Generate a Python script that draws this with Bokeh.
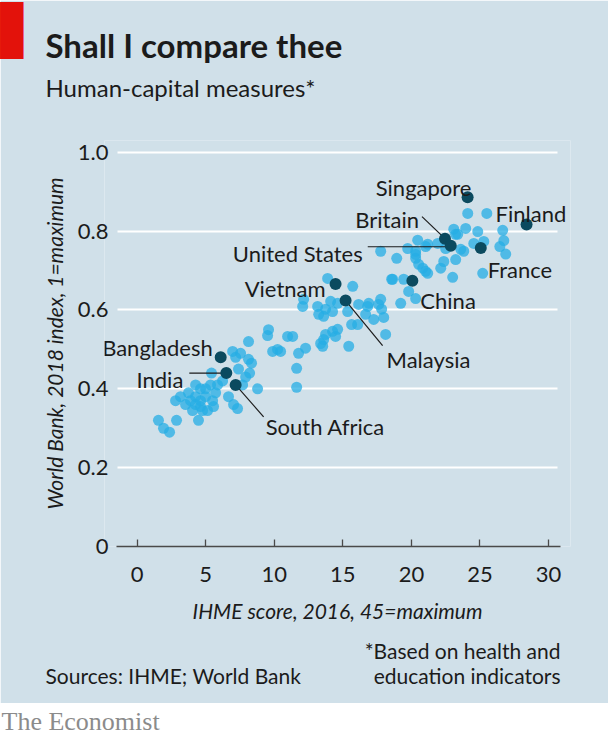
from bokeh.plotting import figure
from bokeh.models import (Range1d, Label, ColumnDataSource, FixedTicker,
                          CustomJSTickFormatter, Grid)
from bokeh.layouts import column
from bokeh.core.properties import value
from bokeh.embed import file_html
from bokeh.resources import INLINE

# ---------------- data ----------------
x_ticks = [0, 5, 10, 15, 20, 25, 30]
y_ticks = [0, 0.2, 0.4, 0.6, 0.8, 1.0]

other_ihme = [
    1.55, 1.92, 2.36, 2.87, 4.47, 2.80, 3.53, 3.74, 4.26, 4.62, 4.99, 5.35, 5.42, 5.86,
    4.26, 4.62, 4.99, 5.50, 3.89, 4.26, 4.62, 4.77, 5.13, 4.04, 3.16, 5.72, 5.57,
    6.66, 7.03, 7.32, 8.78, 6.96, 7.18, 7.54, 8.12, 8.34, 8.20, 7.39, 7.91, 7.69, 6.23, 8.12,
    9.58, 9.51, 9.88, 10.24, 10.46, 10.97, 11.34, 11.77, 12.28, 11.63, 11.63,
    13.38, 13.60, 13.74, 14.25, 14.62, 14.47, 13.53, 15.43, 15.64, 16.08, 18.12,
    12.14, 12.07, 13.16, 13.24, 13.60, 13.74, 14.11, 14.25, 14.62, 13.89, 15.72,
    15.35, 16.15, 16.66, 16.89, 17.25, 17.61, 17.83, 17.98, 18.56, 16.81, 17.76,
    24.11, 25.50, 23.09, 23.96, 24.84, 26.66, 23.23, 20.46, 21.19, 21.92, 19.73,
    17.76, 18.93, 20.31, 20.31, 20.53, 20.83, 21.19, 22.14, 22.36, 23.23, 23.60,
    23.82, 24.55, 25.28, 26.74, 26.45, 26.88, 25.20, 23.01, 18.63, 19.44, 19.80,
    20.31, 19.22, 22.50, 23.38, 21.04, 20.31, 21.04,
]
other_wb = [
    0.320, 0.300, 0.290, 0.320, 0.320, 0.370, 0.360, 0.390, 0.410, 0.400, 0.400, 0.410, 0.440, 0.410,
    0.380, 0.370, 0.380, 0.370, 0.370, 0.360, 0.355, 0.345, 0.345, 0.345, 0.380, 0.390, 0.355,
    0.380, 0.360, 0.350, 0.400, 0.495, 0.480, 0.490, 0.475, 0.465, 0.440, 0.450, 0.430, 0.410, 0.420, 0.520,
    0.550, 0.535, 0.495, 0.500, 0.495, 0.533, 0.533, 0.490, 0.503, 0.452, 0.404,
    0.515, 0.525, 0.538, 0.546, 0.551, 0.533, 0.508, 0.508, 0.563, 0.563, 0.538,
    0.627, 0.609, 0.609, 0.589, 0.584, 0.602, 0.622, 0.596, 0.617, 0.680, 0.660,
    0.596, 0.614, 0.589, 0.617, 0.576, 0.614, 0.602, 0.581, 0.678, 0.609, 0.627,
    0.845, 0.845, 0.805, 0.807, 0.799, 0.802, 0.792, 0.777, 0.767, 0.769, 0.756,
    0.749, 0.731, 0.749, 0.731, 0.716, 0.706, 0.693, 0.706, 0.723, 0.728, 0.754,
    0.749, 0.769, 0.774, 0.776, 0.761, 0.742, 0.693, 0.683, 0.678, 0.678, 0.647,
    0.629, 0.617, 0.756, 0.792, 0.761, 0.741, 0.698,
]

named_countries = ["Singapore", "Finland", "Britain", "United States", "France", "China",
                   "Vietnam", "Malaysia", "Bangladesh", "India", "South Africa"]
named_ihme = [24.1, 28.4, 22.45, 22.87, 25.06, 20.07, 14.47, 15.2, 6.09, 6.5, 7.18]
named_wb = [0.886, 0.817, 0.781, 0.763, 0.757, 0.674, 0.666, 0.624, 0.480, 0.440, 0.410]

title_text = "Shall I compare thee"
subtitle_text = "Human-capital measures*"
x_label = "IHME score, 2016, 45=maximum"
y_label = "World Bank, 2018 index, 1=maximum"
source_text = "Sources: IHME; World Bank"
note_lines = ["*Based on health and", "education indicators"]
brand_text = "The Economist"

# ---------------- styling / layout ----------------
BG = "#d0e0e9"
LIGHT = "#25ade4"
DARK = "#0b4a5f"
TEXT = "#1b1b1b"
RED = "#e3120b"
FONT = "Lato"
LH = 1.2  # assumed text-box height factor

W, H = 608, 703
L, R, T, B = 104, 38, 140, 157
PX0, PX30 = 136.7, 548.0      # pixel of x=0 and x=30
sx = (PX30 - PX0) / 30.0
X0 = (L - PX0) / sx
X1 = (W - R - PX0) / sx
Y0, Y1 = 0.0, 1.03
fh = H - T - B
sy = fh / (Y1 - Y0)


def dx(px):
    return (px - PX0) / sx


p = figure(width=W, height=H, x_range=Range1d(X0, X1), y_range=Range1d(Y0, Y1),
           output_backend="svg", toolbar_location=None,
           min_border_left=L, min_border_right=R, min_border_top=T, min_border_bottom=B)
p.background_fill_color = BG
p.border_fill_color = BG
p.outline_line_color = None

# grid
p.xgrid.visible = False
grid_span = (dx(117), dx(557))
if "cross_bounds" in Grid.properties():
    p.ygrid.ticker = FixedTicker(ticks=y_ticks)
    p.ygrid.grid_line_color = "white"
    p.ygrid.grid_line_width = 2
    p.ygrid.cross_bounds = grid_span
else:
    p.ygrid.visible = False
    p.segment(x0=[grid_span[0]] * len(y_ticks), y0=y_ticks,
              x1=[grid_span[1]] * len(y_ticks), y1=y_ticks,
              line_color="white", line_width=2)

# x axis
xa = p.xaxis[0]
xa.ticker = FixedTicker(ticks=x_ticks)
xa.bounds = (dx(116), dx(560))
xa.axis_line_color = "#4a4a4a"
xa.axis_line_width = 1.3
xa.major_tick_line_color = "#4a4a4a"
xa.major_tick_line_width = 1.3
xa.major_tick_in = 7
xa.major_tick_out = 0
xa.minor_tick_line_color = None
xa.major_label_text_font = FONT
xa.major_label_text_font_size = "22px"
xa.major_label_text_color = TEXT
xa.major_label_standoff = 20
xa.axis_label = x_label
xa.axis_label_text_font = FONT
xa.axis_label_text_font_style = "italic"
xa.axis_label_text_font_size = "21px"
xa.axis_label_text_color = TEXT
xa.axis_label_standoff = 13

# y axis
ya = p.yaxis[0]
ya.ticker = FixedTicker(ticks=y_ticks)
ya.formatter = CustomJSTickFormatter(code="return tick == 0 ? '0' : tick.toFixed(1);")
ya.axis_line_color = None
ya.major_tick_line_color = None
ya.minor_tick_line_color = None
ya.major_tick_in = 0
ya.major_tick_out = 0
ya.major_label_text_font = FONT
ya.major_label_text_font_size = "22px"
ya.major_label_text_color = TEXT
ya.major_label_standoff = -4
ya.axis_label = y_label
ya.axis_label_text_font = FONT
ya.axis_label_text_font_style = "italic"
ya.axis_label_text_font_size = "21px"
ya.axis_label_text_color = TEXT
ya.axis_label_standoff = 8

# points
p.scatter(other_ihme, other_wb, size=11, fill_color=LIGHT, fill_alpha=0.75, line_color=None)

label_align = ["center", "left", "right", "right", "left", "left", "right", "left", "right", "right", "left"]
label_dx = [-44, -31, -26, -88, 7, 8, -10, 41, -8, -43, 30]
label_dy = [-10, -11, -19, 8, 21, 20, 5, 59, -10, 6, 42]
leaders = {
    "Britain": ((-23, -22), (0, 0)),
    "United States": ((-83, 1), (0, 1)),
    "Malaysia": ((0, 0), (37, 45)),
    "India": ((-37, 0), (0, 0)),
    "South Africa": ((0, 0), (28, 32)),
}
lx0, ly0, lx1, ly1 = [], [], [], []
for name, xv, yv in zip(named_countries, named_ihme, named_wb):
    if name in leaders:
        (a, b), (c, d) = leaders[name]
        lx0.append(xv + a / sx)
        ly0.append(yv - b / sy)
        lx1.append(xv + c / sx)
        ly1.append(yv - d / sy)
p.segment(lx0, ly0, lx1, ly1, line_color="#1b1b1b", line_width=1.2)

p.scatter(named_ihme, named_wb, size=12, fill_color=DARK, line_color=None)

src = ColumnDataSource(dict(x=named_ihme, y=named_wb, t=named_countries,
                            align=label_align, xo=label_dx, yo=label_dy))
p.text(x="x", y="y", text="t", source=src, x_offset="xo", y_offset="yo",
       text_align="align", text_baseline="alphabetic", text_font=value(FONT),
       text_font_size="22px", text_color=TEXT)


# ---------- texts outside the frame: labels placed in side panels ----------
def panel_label(text, x_px, base_px, slot_bottom, size, side, fig=p, left=L, **kw):
    lab = Label(x=x_px - left if side != "right" else x_px - (W - R),
                y=slot_bottom - base_px, x_units="screen", y_units="screen",
                text=text, text_font=kw.pop("font", FONT), text_font_size=f"{size}px",
                text_color=kw.pop("color", TEXT), text_baseline="alphabetic", **kw)
    fig.add_layout(lab, side)
    return lab


# above stack (first added sits next to the frame); second number = measured correction
sub_h, tit_h = LH * 24, LH * 33
panel_label(subtitle_text, 45, 97 - 10, T, 24, "above")
panel_label(title_text, 45, 59 - 14, T - sub_h, 33, "above", text_font_style="bold")
panel_label(source_text, 45, 684 - 8, T - sub_h - tit_h, 21, "above")

# below stack (axis first)
ax_h = 20 + LH * 22 + 12 + LH * 21
n1_bottom = (H - B) + ax_h + LH * 21
n2_bottom = n1_bottom + LH * 21
panel_label(note_lines[0], 560, 659 - 4, n1_bottom, 21, "below", text_align="right")
panel_label(note_lines[1], 560, 684 - 4, n2_bottom, 21, "below", text_align="right")

# red bar in the right panel (left five-eighths block glyph)
bar_size = 48
bar_base = 59 - 0.236 * bar_size
panel_label("\u258b", 0, bar_base - 18, H - B, bar_size, "right", font="DejaVu Sans", color=RED)

# brand strip
p2 = figure(width=W, height=36, x_range=Range1d(0, 1), y_range=Range1d(0, 1),
            output_backend="svg", toolbar_location=None, x_axis_type=None, y_axis_type=None,
            min_border_left=L, min_border_right=R, min_border_top=0, min_border_bottom=0)
p2.background_fill_color = "white"
p2.border_fill_color = "white"
p2.outline_line_color = None
p2.grid.visible = False
brand_h = LH * 26
panel_label(brand_text, 1, (730 - 703) - 7, brand_h, 26, "above", fig=p2,
            font="Liberation Serif", color="#8b8b8b")

layout = column(p, p2, spacing=0)
open("out.html", "w").write(file_html(layout, INLINE))
